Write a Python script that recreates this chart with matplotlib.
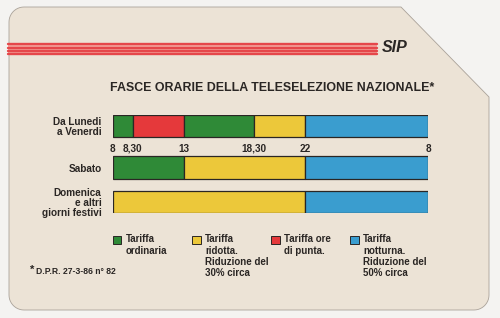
import numpy as np
import matplotlib
matplotlib.use("Agg")
import matplotlib.pyplot as plt
from matplotlib.patches import Polygon, Rectangle

# --- data ---
days = ["Da Lunedi\na Venerdi", "Sabato", "Domenica\ne altri\ngiorni festivi"]

feriali_start = [8, 8.5, 13, 18.5, 22]
feriali_end = [8.5, 13, 18.5, 22, 32]
feriali_tariffa = ["ordinaria", "punta", "ordinaria", "ridotta", "notturna"]

sabato_start = [8, 13, 22]
sabato_end = [13, 22, 32]
sabato_tariffa = ["ordinaria", "ridotta", "notturna"]

festivi_start = [8, 22]
festivi_end = [22, 32]
festivi_tariffa = ["ridotta", "notturna"]

tick_hours = [8, 8.5, 13, 18.5, 22, 32]
tick_labels = ["8", "8,30", "13", "18,30", "22", "8"]

legend_keys = ["ordinaria", "ridotta", "punta", "notturna"]
legend_labels = ["Tariffa\nordinaria",
                 "Tariffa\nridotta.\nRiduzione del\n30% circa",
                 "Tariffa ore\ndi punta.",
                 "Tariffa\nnotturna.\nRiduzione del\n50% circa"]

title = "FASCE ORARIE DELLA TELESELEZIONE NAZIONALE*"
footnote = "D.P.R. 27-3-86 n° 82"

# --- style ---
colors = {"ordinaria": "#2f8a37", "punta": "#e5393b",
          "ridotta": "#ecc83a", "notturna": "#3a9dcf"}
ink = "#2a2624"
sans = ["Liberation Sans", "DejaVu Sans"]

W, H = 500, 318
fig = plt.figure(figsize=(5, 3.18), dpi=100)
fig.patch.set_facecolor("#f4f3f1")

# background card, pixel coordinates
bg = fig.add_axes([0, 0, 1, 1])
bg.set_xlim(0, W)
bg.set_ylim(H, 0)
bg.axis("off")


def arc(cx, cy, r, a0, a1):
    t = np.linspace(a0, a1, 12)
    return np.c_[cx + r * np.cos(t), cy + r * np.sin(t)]


r = 15
card = np.vstack([arc(9 + r, 7 + r, r, np.pi, 1.5 * np.pi),
                  [[401, 7], [489, 97]],
                  arc(489 - r, 310 - r, r, 0, 0.5 * np.pi),
                  arc(9 + r, 310 - r, r, 0.5 * np.pi, np.pi)])
bg.add_patch(Polygon(card, closed=True, facecolor="#ece3d6",
                     edgecolor="#aaa299", linewidth=0.6))

# red stripes + logo
bg.add_patch(Rectangle((8, 43), 369, 12, facecolor="#f3a49c", edgecolor="none"))
for y in [44.3, 47.8, 51.2, 54.3]:
    bg.plot([8, 377], [y, y], color="#e5474a", linewidth=1.7,
            solid_capstyle="round")
bg.text(382, 48, "SIP", fontsize=11.5, fontweight="bold", style="italic",
        color=ink, va="center", ha="left", family=sans)

bg.text(272.5, 88, title, fontsize=8.9, fontweight="bold", color=ink,
        ha="center", va="center", family=sans)

# bars
x0, x1, ytop, ybot = 112.7, 428.3, 115, 213.3
knot_pos = [112.7, 132.7, 184, 254.3, 305, 428.3]


def fwd(x):
    return np.interp(x, tick_hours, knot_pos)


def inv(x):
    return np.interp(x, knot_pos, tick_hours)


ax = fig.add_axes([x0 / W, 1 - ybot / H, (x1 - x0) / W, (ybot - ytop) / H])
ax.set_facecolor("none")
ax.set_xscale("function", functions=(fwd, inv))
ax.set_xlim(8, 32)
ax.set_ylim(ybot, ytop)

row_y = [126.2, 167.5, 202.0]
bar_h = 22.4
rows = [(feriali_start, feriali_end, feriali_tariffa),
        (sabato_start, sabato_end, sabato_tariffa),
        (festivi_start, festivi_end, festivi_tariffa)]
for yc, (starts, ends, tariffe) in zip(row_y, rows):
    ax.barh(yc, np.subtract(ends, starts), left=starts, height=bar_h,
            color=[colors[t] for t in tariffe], edgecolor=ink, linewidth=0.9)

ax.set_xticks([])
ax.set_yticks(row_y)
ax.set_yticklabels(days, fontsize=7.2, fontweight="bold", color=ink,
                   family=sans, linespacing=1.0)
ax.tick_params(axis="y", length=0, pad=8)
for s in ax.spines.values():
    s.set_visible(False)

for h, lab in zip(tick_hours, tick_labels):
    ax.text(h, 151.5, lab, fontsize=7.2, fontweight="bold", color=ink,
            ha="center", va="baseline", family=sans)

# legend
leg_x = [112.7, 192, 271, 350]
for lx, key, lab in zip(leg_x, legend_keys, legend_labels):
    bg.add_patch(Rectangle((lx, 235.5), 8.5, 8.5, facecolor=colors[key],
                           edgecolor=ink, linewidth=0.7))
    bg.text(lx + 13, 234.3, lab, fontsize=7, fontweight="bold", color=ink,
            ha="left", va="top", family=sans, linespacing=1.15)

bg.text(30, 270, "*", fontsize=8, fontweight="bold", color=ink,
        ha="left", va="center", family=sans)
bg.text(36, 272, footnote, fontsize=6.2, fontweight="bold", color=ink,
        ha="left", va="center", family=sans)

fig.savefig("out.png", dpi=100, facecolor=fig.get_facecolor())
